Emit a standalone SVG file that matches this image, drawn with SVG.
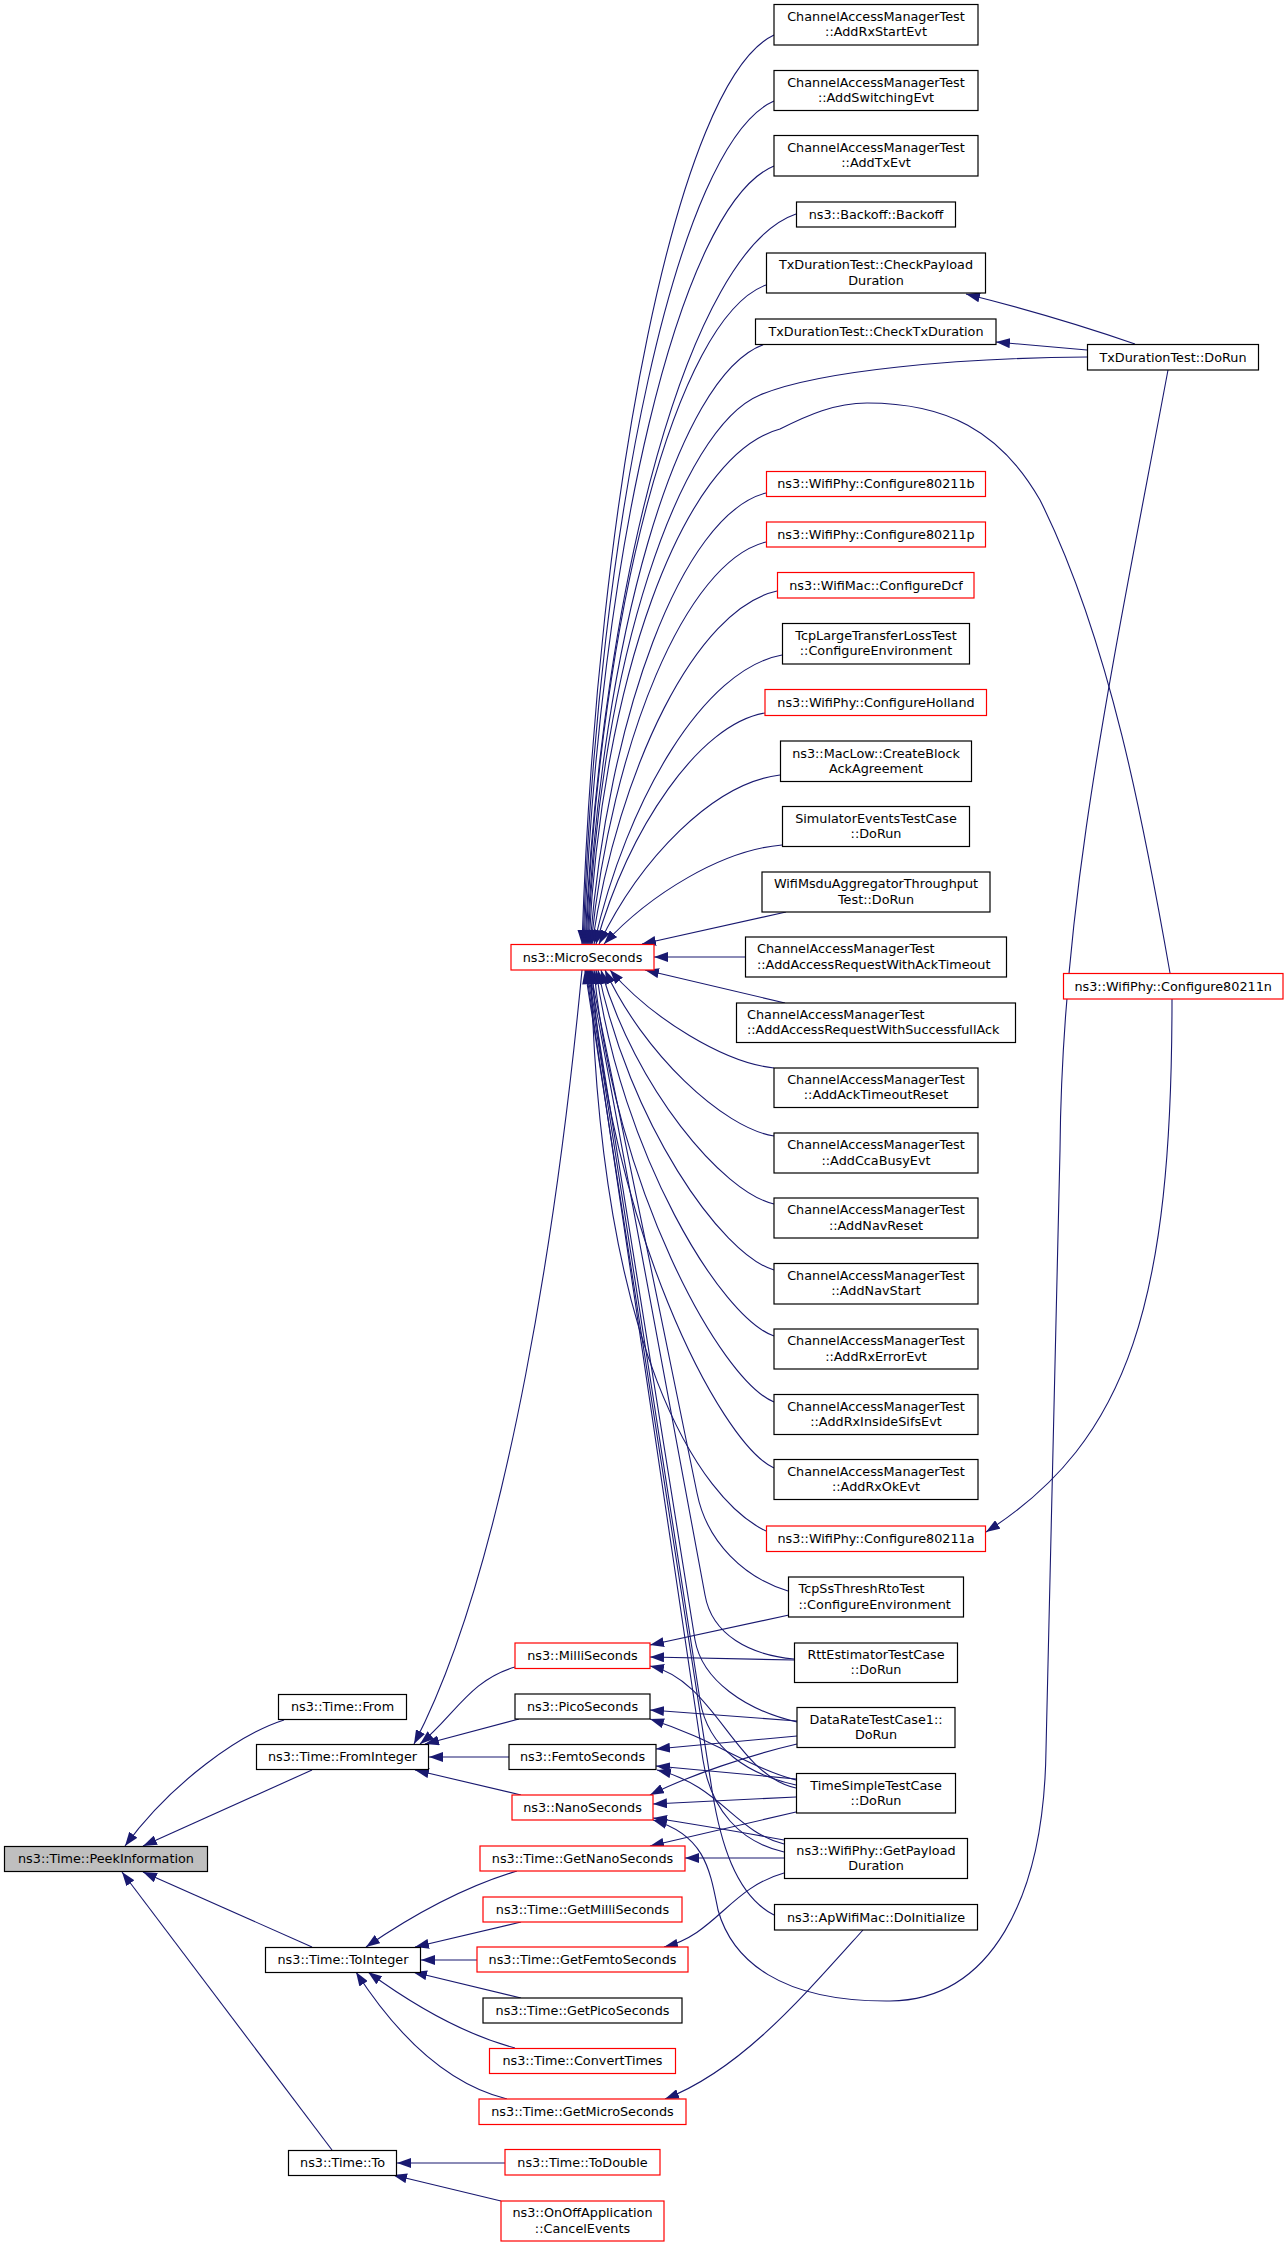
<svg xmlns="http://www.w3.org/2000/svg" width="1288" height="2247" viewBox="0 0 1288 2247">
<style>
.bg{fill:#ffffff}
.node rect{fill:#ffffff;stroke:#000000;stroke-width:1.2}
.node.red rect{stroke:#ff0000}
.node.cur rect{fill:#bfbfbf}
.node text{font-family:"DejaVu Sans","Liberation Sans",sans-serif;font-size:12.8px;fill:#000000;text-anchor:middle}
.node text.l{text-anchor:start}
.e{fill:none;stroke:#191970;stroke-width:1.1;marker-end:url(#a)}
</style>
<defs>
<marker id="a" viewBox="0 0 14 10" refX="14" refY="5" markerWidth="14" markerHeight="10" markerUnits="userSpaceOnUse" orient="auto"><path d="M0,0 L14,5 L0,10 z" fill="#191970"/></marker>
</defs>
<rect class="bg" x="0" y="0" width="1288" height="2247"/>
<g id="edges">
<path class="e" d="M284,1720 C240,1734 172,1782 125,1846"/>
<path class="e" d="M312,1770 L143,1846"/>
<path class="e" d="M312,1947 L143,1872"/>
<path class="e" d="M332,2150 L122,1872"/>
<path class="e" d="M582,970 C560,1200 510,1560 414,1744"/>
<path class="e" d="M515,1667 C470,1680 455,1715 420,1744"/>
<path class="e" d="M519,1719 L425,1744"/>
<path class="e" d="M509,1757 L429,1757"/>
<path class="e" d="M521,1795 L415,1770"/>
<path class="e" d="M517,1871 C470,1885 420,1910 366,1947"/>
<path class="e" d="M521,1922 L415,1947"/>
<path class="e" d="M477,1960 L421,1960"/>
<path class="e" d="M521,1998 L413,1972"/>
<path class="e" d="M515,2048 C470,2036 420,2010 368,1972"/>
<path class="e" d="M507,2099 C450,2085 400,2040 356,1972"/>
<path class="e" d="M505,2163 L397,2163"/>
<path class="e" d="M501,2201 L393,2175"/>
<path class="e" d="M774,35 C678,80 597,490 582,944"/>
<path class="e" d="M774,101 C678,143 598,522 583,944"/>
<path class="e" d="M774,166 C679,205 599,555 584,944"/>
<path class="e" d="M796,214 C690,250 602,579 585,944"/>
<path class="e" d="M766,285 C676,318 600,614 586,944"/>
<path class="e" d="M765,344 C676,374 601,644 587,944"/>
<path class="e" d="M1087,357 C960,358 820,370 760,395 C680,428 600,660 588,944"/>
<path class="e" d="M1170,973 C1145,830 1110,640 1040,500 C1000,430 945,403 867,403 C835,403 808,415 780,429 C681,455 601,686 589,944"/>
<path class="e" d="M766,493 C681,515 608,718 590,944"/>
<path class="e" d="M766,542 C685,562 612,743 591,944"/>
<path class="e" d="M777,591 C696,609 619,767 592,944"/>
<path class="e" d="M782,655 C704,669 627,799 594,944"/>
<path class="e" d="M765,713 C699,724 629,828 596,944"/>
<path class="e" d="M780,775 C713,783 640,859 599,944"/>
<path class="e" d="M782,845 C722,850 650,894 604,944"/>
<path class="e" d="M786,912 C745,921 700,931 642,944"/>
<path class="e" d="M745,957 L654,957"/>
<path class="e" d="M785,1003 C745,994 700,983 645,970"/>
<path class="e" d="M774,1068 C725,1063 652,1019 610,970"/>
<path class="e" d="M774,1136 C723,1128 643,1053 605,970"/>
<path class="e" d="M774,1204 C722,1192 635,1087 601,970"/>
<path class="e" d="M774,1270 C721,1255 628,1120 598,970"/>
<path class="e" d="M774,1336 C721,1318 621,1153 596,970"/>
<path class="e" d="M774,1402 C720,1380 614,1186 594,970"/>
<path class="e" d="M774,1468 C719,1443 607,1219 592,970"/>
<path class="e" d="M766,1531 C700,1500 600,1350 591,970"/>
<path class="e" d="M788,1591 C745,1578 707,1543 697,1493 L590,970"/>
<path class="e" d="M794,1659 C750,1655 712,1635 705,1595 L589,970"/>
<path class="e" d="M797,1722 C745,1710 702,1680 695,1640 L588,970"/>
<path class="e" d="M796,1785 C750,1775 708,1750 700,1700 L587,970"/>
<path class="e" d="M784,1852 C740,1842 711,1810 703,1760 L586,970"/>
<path class="e" d="M774,1915 C735,1895 720,1840 712,1790 L585,970"/>
<path class="e" d="M1087,350 L996,342"/>
<path class="e" d="M1135,344 C1060,318 1010,305 966,294"/>
<path class="e" d="M1172,999 C1172,1300 1130,1440 986,1532"/>
<path class="e" d="M1168,370 C1110,680 1062,900 1060,1150 L1046,1750 C1044,1900 990,2000 890,2001 C780,2002 732,1960 718,1910 C710,1870 705,1835 653,1820"/>
<path class="e" d="M789,1615 L650,1645"/>
<path class="e" d="M794,1660 L650,1657"/>
<path class="e" d="M796,1788 C735,1775 715,1680 650,1666"/>
<path class="e" d="M797,1721 L650,1710"/>
<path class="e" d="M796,1780 C750,1768 715,1740 650,1719"/>
<path class="e" d="M797,1736 L656,1749"/>
<path class="e" d="M796,1779 L656,1766"/>
<path class="e" d="M784,1844 C735,1832 720,1785 657,1770"/>
<path class="e" d="M797,1744 C750,1755 690,1775 650,1795"/>
<path class="e" d="M796,1797 L653,1804"/>
<path class="e" d="M784,1840 C740,1832 700,1825 653,1818"/>
<path class="e" d="M796,1812 L650,1846"/>
<path class="e" d="M784,1858 L685,1858"/>
<path class="e" d="M784,1873 C730,1888 715,1935 664,1947"/>
<path class="e" d="M863,1930 C800,2000 740,2070 665,2099"/>
</g>
<g id="n_peek" class="node cur"><rect x="4.5" y="1846.5" width="203" height="25"/><text x="106" y="1863.3">ns3::Time::PeekInformation</text></g>
<g id="n_from" class="node"><rect x="278.5" y="1694.5" width="128" height="25"/><text x="342.5" y="1711.3">ns3::Time::From</text></g>
<g id="n_frominteger" class="node"><rect x="256.5" y="1744.5" width="172" height="25"/><text x="342.5" y="1761.3">ns3::Time::FromInteger</text></g>
<g id="n_tointeger" class="node"><rect x="265.5" y="1947.5" width="155" height="25"/><text x="343" y="1964.3">ns3::Time::ToInteger</text></g>
<g id="n_to" class="node"><rect x="288.5" y="2150.5" width="108" height="25"/><text x="342.5" y="2167.3">ns3::Time::To</text></g>
<g id="n_micro" class="node red"><rect x="511" y="944.5" width="143" height="25.5"/><text x="582.5" y="961.5">ns3::MicroSeconds</text></g>
<g id="n_milli" class="node red"><rect x="515" y="1643" width="135" height="25.5"/><text x="582.5" y="1660">ns3::MilliSeconds</text></g>
<g id="n_pico" class="node"><rect x="515" y="1694" width="135" height="25"/><text x="582.5" y="1710.8">ns3::PicoSeconds</text></g>
<g id="n_femto" class="node"><rect x="509" y="1744.5" width="147" height="25"/><text x="582.5" y="1761.3">ns3::FemtoSeconds</text></g>
<g id="n_nano" class="node red"><rect x="512" y="1795" width="141" height="25"/><text x="582.5" y="1811.8">ns3::NanoSeconds</text></g>
<g id="n_getnano" class="node red"><rect x="480" y="1846" width="205" height="25"/><text x="582.5" y="1862.8">ns3::Time::GetNanoSeconds</text></g>
<g id="n_getmilli" class="node red"><rect x="483" y="1897" width="199" height="25"/><text x="582.5" y="1913.8">ns3::Time::GetMilliSeconds</text></g>
<g id="n_getfemto" class="node red"><rect x="477" y="1947" width="211" height="25"/><text x="582.5" y="1963.8">ns3::Time::GetFemtoSeconds</text></g>
<g id="n_getpico" class="node"><rect x="483" y="1998" width="199" height="25"/><text x="582.5" y="2014.8">ns3::Time::GetPicoSeconds</text></g>
<g id="n_convert" class="node red"><rect x="489.5" y="2048.5" width="186" height="25"/><text x="582.5" y="2065.3">ns3::Time::ConvertTimes</text></g>
<g id="n_getmicro" class="node red"><rect x="479" y="2099" width="207" height="25.5"/><text x="582.5" y="2116">ns3::Time::GetMicroSeconds</text></g>
<g id="n_todouble" class="node red"><rect x="505" y="2149.5" width="155" height="25.5"/><text x="582.5" y="2166.5">ns3::Time::ToDouble</text></g>
<g id="n_onoff" class="node red"><rect x="501" y="2201" width="163" height="40"/><text x="582.5" y="2217.4">ns3::OnOffApplication</text><text x="582.5" y="2232.6">::CancelEvents</text></g>
<g id="n_rxstart" class="node"><rect x="774" y="4.5" width="204" height="40.5"/><text x="876" y="21">ChannelAccessManagerTest</text><text x="876" y="36.2">::AddRxStartEvt</text></g>
<g id="n_switching" class="node"><rect x="774" y="70.5" width="204" height="40"/><text x="876" y="86.9">ChannelAccessManagerTest</text><text x="876" y="102.1">::AddSwitchingEvt</text></g>
<g id="n_txevt" class="node"><rect x="774" y="135.5" width="204" height="40.5"/><text x="876" y="152">ChannelAccessManagerTest</text><text x="876" y="167.2">::AddTxEvt</text></g>
<g id="n_backoff" class="node"><rect x="796.5" y="202" width="159" height="25"/><text x="876" y="218.8">ns3::Backoff::Backoff</text></g>
<g id="n_checkpayload" class="node"><rect x="766.5" y="253" width="219" height="40"/><text x="876" y="269.4">TxDurationTest::CheckPayload</text><text x="876" y="284.6">Duration</text></g>
<g id="n_checktx" class="node"><rect x="755.5" y="319" width="240.5" height="25.5"/><text x="876" y="336">TxDurationTest::CheckTxDuration</text></g>
<g id="n_80211b" class="node red"><rect x="766.5" y="471.5" width="219" height="25"/><text x="876" y="488.3">ns3::WifiPhy::Configure80211b</text></g>
<g id="n_80211p" class="node red"><rect x="766.5" y="522" width="219" height="25"/><text x="876" y="538.8">ns3::WifiPhy::Configure80211p</text></g>
<g id="n_dcf" class="node red"><rect x="777.5" y="572.5" width="196.5" height="25.5"/><text x="876" y="589.5">ns3::WifiMac::ConfigureDcf</text></g>
<g id="n_tcplarge" class="node"><rect x="782.5" y="623.5" width="187" height="40.5"/><text x="876" y="640">TcpLargeTransferLossTest</text><text x="876" y="655.2">::ConfigureEnvironment</text></g>
<g id="n_holland" class="node red"><rect x="765" y="689.5" width="221.5" height="26"/><text x="876" y="706.8">ns3::WifiPhy::ConfigureHolland</text></g>
<g id="n_createblock" class="node"><rect x="780.5" y="741" width="191" height="40.5"/><text x="876" y="757.5">ns3::MacLow::CreateBlock</text><text x="876" y="772.7">AckAgreement</text></g>
<g id="n_simevents" class="node"><rect x="782.5" y="806.5" width="187" height="40"/><text x="876" y="822.9">SimulatorEventsTestCase</text><text x="876" y="838.1">::DoRun</text></g>
<g id="n_msdu" class="node"><rect x="762" y="872" width="228" height="40"/><text x="876" y="888.4">WifiMsduAggregatorThroughput</text><text x="876" y="903.6">Test::DoRun</text></g>
<g id="n_acktimeout" class="node"><rect x="745.5" y="937" width="261" height="40"/><text class="l" x="757" y="953.4">ChannelAccessManagerTest</text><text class="l" x="757" y="968.6">::AddAccessRequestWithAckTimeout</text></g>
<g id="n_successack" class="node"><rect x="736.5" y="1003" width="279" height="39.5"/><text class="l" x="747" y="1019.2">ChannelAccessManagerTest</text><text class="l" x="747" y="1034.4">::AddAccessRequestWithSuccessfullAck</text></g>
<g id="n_acktimeoutreset" class="node"><rect x="774" y="1068" width="204" height="39.5"/><text x="876" y="1084.2">ChannelAccessManagerTest</text><text x="876" y="1099.4">::AddAckTimeoutReset</text></g>
<g id="n_ccabusy" class="node"><rect x="774" y="1133" width="204" height="40"/><text x="876" y="1149.4">ChannelAccessManagerTest</text><text x="876" y="1164.6">::AddCcaBusyEvt</text></g>
<g id="n_navreset" class="node"><rect x="774" y="1198" width="204" height="40"/><text x="876" y="1214.4">ChannelAccessManagerTest</text><text x="876" y="1229.6">::AddNavReset</text></g>
<g id="n_navstart" class="node"><rect x="774" y="1263.5" width="204" height="40.5"/><text x="876" y="1280">ChannelAccessManagerTest</text><text x="876" y="1295.2">::AddNavStart</text></g>
<g id="n_rxerror" class="node"><rect x="774" y="1329" width="204" height="40"/><text x="876" y="1345.4">ChannelAccessManagerTest</text><text x="876" y="1360.6">::AddRxErrorEvt</text></g>
<g id="n_rxinside" class="node"><rect x="774" y="1394.5" width="204" height="40"/><text x="876" y="1410.9">ChannelAccessManagerTest</text><text x="876" y="1426.1">::AddRxInsideSifsEvt</text></g>
<g id="n_rxok" class="node"><rect x="774" y="1459.5" width="204" height="40"/><text x="876" y="1475.9">ChannelAccessManagerTest</text><text x="876" y="1491.1">::AddRxOkEvt</text></g>
<g id="n_80211a" class="node red"><rect x="766.5" y="1526" width="219" height="25.5"/><text x="876" y="1543">ns3::WifiPhy::Configure80211a</text></g>
<g id="n_tcpss" class="node"><rect x="788.5" y="1577" width="175" height="40"/><text class="l" x="798.5" y="1593.4">TcpSsThreshRtoTest</text><text class="l" x="798.5" y="1608.6">::ConfigureEnvironment</text></g>
<g id="n_rtt" class="node"><rect x="794.5" y="1643" width="163" height="39.5"/><text x="876" y="1659.2">RttEstimatorTestCase</text><text x="876" y="1674.4">::DoRun</text></g>
<g id="n_datarate" class="node"><rect x="797" y="1707.5" width="158" height="40"/><text x="876" y="1723.9">DataRateTestCase1::</text><text x="876" y="1739.1">DoRun</text></g>
<g id="n_timesimple" class="node"><rect x="796.5" y="1773.5" width="159" height="39.5"/><text x="876" y="1789.7">TimeSimpleTestCase</text><text x="876" y="1804.9">::DoRun</text></g>
<g id="n_getpayload" class="node"><rect x="784.5" y="1838.5" width="183" height="40"/><text x="876" y="1854.9">ns3::WifiPhy::GetPayload</text><text x="876" y="1870.1">Duration</text></g>
<g id="n_apwifimac" class="node"><rect x="774.5" y="1904.5" width="203" height="25.5"/><text x="876" y="1921.5">ns3::ApWifiMac::DoInitialize</text></g>
<g id="n_txdorun" class="node"><rect x="1087.5" y="344.5" width="171" height="25.5"/><text x="1173" y="361.5">TxDurationTest::DoRun</text></g>
<g id="n_80211n" class="node red"><rect x="1063.5" y="973.5" width="219.5" height="25.5"/><text x="1173.2" y="990.5">ns3::WifiPhy::Configure80211n</text></g>
</svg>
